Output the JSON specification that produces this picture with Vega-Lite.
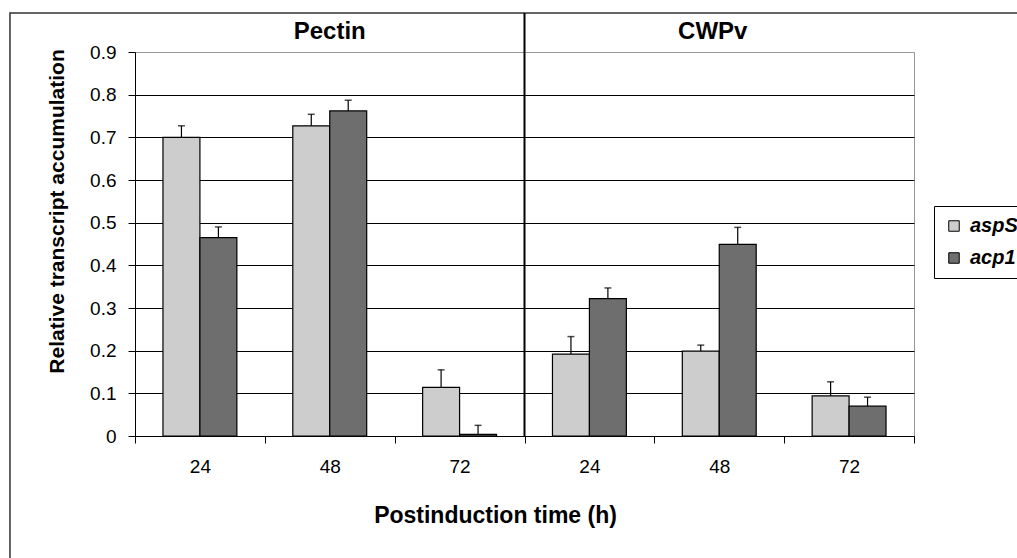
{
  "$schema": "https://vega.github.io/schema/vega-lite/v6.json",
  "width": 779,
  "height": 384,
  "autosize": {"type": "none"},
  "padding": {"left": 135, "top": 52, "right": 103, "bottom": 122},
  "background": "white",
  "config": {
    "view": {"stroke": "#999999", "strokeWidth": 1},
    "font": "Liberation Sans"
  },
  "datasets": {
    "bars": [
      {"cat": "Pectin 24", "gene": "aspS", "value": 0.700, "upper": 0.727},
      {"cat": "Pectin 24", "gene": "acp1", "value": 0.465, "upper": 0.490},
      {"cat": "Pectin 48", "gene": "aspS", "value": 0.727, "upper": 0.754},
      {"cat": "Pectin 48", "gene": "acp1", "value": 0.762, "upper": 0.787},
      {"cat": "Pectin 72", "gene": "aspS", "value": 0.114, "upper": 0.155},
      {"cat": "Pectin 72", "gene": "acp1", "value": 0.004, "upper": 0.025},
      {"cat": "CWPv 24", "gene": "aspS", "value": 0.192, "upper": 0.233},
      {"cat": "CWPv 24", "gene": "acp1", "value": 0.322, "upper": 0.347},
      {"cat": "CWPv 48", "gene": "aspS", "value": 0.199, "upper": 0.213},
      {"cat": "CWPv 48", "gene": "acp1", "value": 0.449, "upper": 0.489},
      {"cat": "CWPv 72", "gene": "aspS", "value": 0.094, "upper": 0.127},
      {"cat": "CWPv 72", "gene": "acp1", "value": 0.070, "upper": 0.091}
    ]
  },
  "layer": [
    {
      "data": {"values": [{}]},
      "mark": {"type": "rect", "fill": "transparent", "stroke": "#333333", "strokeWidth": 1.5},
      "encoding": {
        "x": {"datum": -0.1605, "type": "quantitative", "scale": {"domain": [0, 1]}, "axis": null},
        "x2": {"datum": 1.2},
        "y": {"datum": -0.4, "type": "quantitative", "scale": {"domain": [0, 0.9], "nice": false}},
        "y2": {"datum": 0.9914}
      }
    },
    {
      "layer": [
        {
          "data": {"name": "bars"},
          "mark": {"type": "bar", "stroke": "black", "strokeWidth": 1.2},
          "encoding": {
            "x": {
              "field": "cat", "type": "nominal",
              "scale": {"domain": ["Pectin 24", "Pectin 48", "Pectin 72", "CWPv 24", "CWPv 48", "CWPv 72"], "paddingInner": 0, "paddingOuter": 0},
              "axis": {
                "labelExpr": "split(datum.label, ' ')[1]",
                "tickBand": "extent",
                "tickSize": 7,
                "tickColor": "black",
                "domainColor": "black",
                "labelAngle": 0,
                "labelFontSize": 19,
                "labelColor": "black",
                "labelPadding": 14,
                "grid": false,
                "title": "Postinduction time (h)",
                "titleFontSize": 23,
                "titleFontWeight": "bold",
                "titleColor": "black",
                "titleX": 360,
                "titleY": 79,
                "titleBaseline": "middle"
              }
            },
            "xOffset": {"field": "gene", "type": "nominal", "sort": ["aspS", "acp1"], "scale": {"paddingInner": 0, "paddingOuter": 0.757}},
            "y": {
              "field": "value", "type": "quantitative",
              "scale": {"domain": [0, 0.9], "nice": false},
              "axis": {
                "values": [0, 0.1, 0.2, 0.3, 0.4, 0.5, 0.6, 0.7, 0.8, 0.9],
                "format": ".1~f",
                "grid": true,
                "gridColor": {"condition": {"test": "datum.value >= 0.89", "value": "#999999"}, "value": "black"},
                "gridOpacity": 1,
                "tickSize": 7,
                "tickColor": "black",
                "domainColor": "black",
                "labelFontSize": 19,
                "labelColor": "black",
                "labelPadding": 12,
                "title": "Relative transcript accumulation",
                "titleFontSize": 21,
                "titleFontWeight": "bold",
                "titleColor": "black",
                "titleX": -78,
                "titleY": 159,
                "titleBaseline": "middle",
                "titleAlign": "center"
              }
            },
            "color": {
              "field": "gene", "type": "nominal",
              "scale": {"domain": ["aspS", "acp1"], "range": ["#cdcdcd", "#6e6e6e"]},
              "legend": {
                "title": null,
                "orient": "none",
                "legendX": 799,
                "legendY": 154,
                "strokeColor": "black",
                "fillColor": "white",
                "padding": 10,
                "symbolType": "square",
                "symbolSize": 110,
                "symbolStrokeColor": "black",
                "symbolStrokeWidth": 1,
                "labelFontSize": 20,
                "labelFontStyle": "italic",
                "labelFontWeight": "bold",
                "labelColor": "black",
                "labelOffset": 6,
                "rowPadding": 12
              }
            }
          }
        },
        {
          "data": {"name": "bars"},
          "mark": {"type": "rule", "color": "black", "strokeWidth": 1.2},
          "encoding": {
            "x": {"field": "cat", "type": "nominal"},
            "xOffset": {"field": "gene", "type": "nominal", "sort": ["aspS", "acp1"]},
            "y": {"field": "value", "type": "quantitative"},
            "y2": {"field": "upper"}
          }
        },
        {
          "data": {"name": "bars"},
          "mark": {"type": "tick", "color": "black", "size": 7, "thickness": 1.5, "orient": "horizontal"},
          "encoding": {
            "x": {"field": "cat", "type": "nominal"},
            "xOffset": {"field": "gene", "type": "nominal", "sort": ["aspS", "acp1"]},
            "y": {"field": "upper", "type": "quantitative"}
          }
        },
        {
          "data": {"values": [{"cat": "CWPv 24"}]},
          "mark": {"type": "rule", "color": "black", "strokeWidth": 2},
          "encoding": {
            "x": {"field": "cat", "type": "nominal", "bandPosition": 0},
            "y": {"datum": 0, "type": "quantitative"},
            "y2": {"datum": 0.9914}
          }
        },
        {
          "data": {"values": [{"cat": "Pectin 48", "label": "Pectin"}]},
          "mark": {"type": "text", "fontSize": 24, "fontWeight": "bold", "color": "black", "baseline": "middle"},
          "encoding": {
            "x": {"field": "cat", "type": "nominal", "bandPosition": 0.5},
            "y": {"datum": 0.947, "type": "quantitative"},
            "text": {"field": "label"}
          }
        },
        {
          "data": {"values": [{"cat": "CWPv 48", "label": "CWPv"}]},
          "mark": {"type": "text", "fontSize": 24, "fontWeight": "bold", "color": "black", "baseline": "middle"},
          "encoding": {
            "x": {"field": "cat", "type": "nominal", "bandPosition": 0.45},
            "y": {"datum": 0.947, "type": "quantitative"},
            "text": {"field": "label"}
          }
        }
      ]
    }
  ],
  "resolve": {"scale": {"x": "independent"}, "axis": {"x": "independent"}}
}
